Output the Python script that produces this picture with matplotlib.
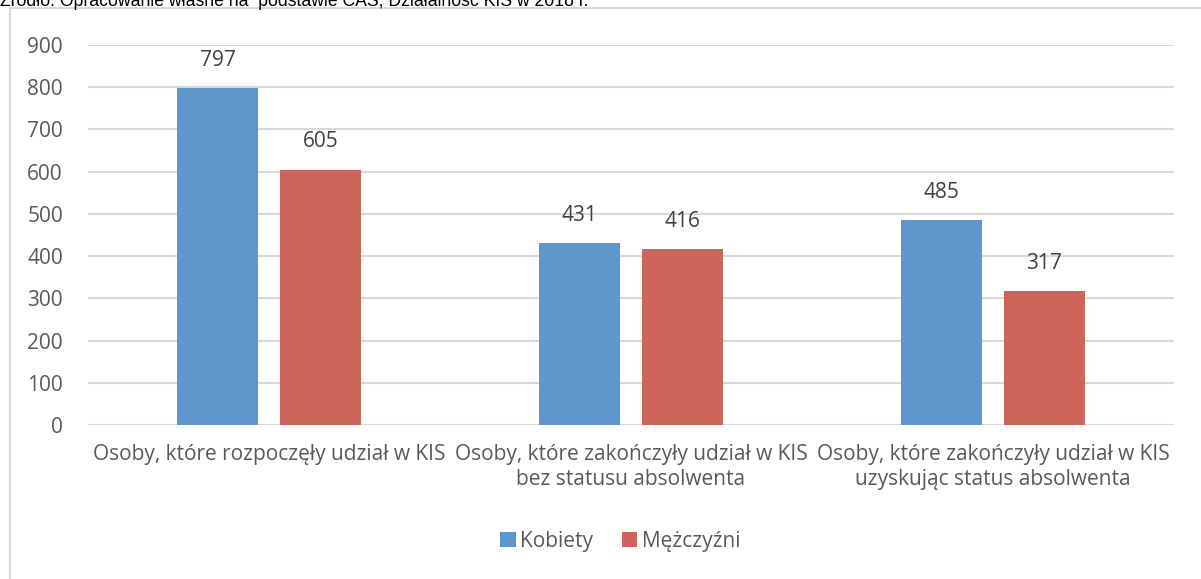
import matplotlib.pyplot as plt
import numpy as np
from matplotlib.patches import Rectangle

categories = ['Osoby, które rozpoczęły udział w KIS',
              'Osoby, które zakończyły udział w KIS\nbez statusu absolwenta',
              'Osoby, które zakończyły udział w KIS\nuzyskując status absolwenta']
series_names = ['Kobiety', 'Mężczyźni']
kobiety = [797, 431, 485]
mezczyzni = [605, 416, 317]
yticks = [0, 100, 200, 300, 400, 500, 600, 700, 800, 900]

plt.rcParams['font.family'] = ['Open Sans', 'DejaVu Sans']
txt = '#595959'

fig = plt.figure(figsize=(12.01, 5.79), dpi=100)
fig.patch.set_facecolor('white')

# ramka wykresu
fig.patches.append(Rectangle((10 / 1201, -0.05), 1.2, 1 - 8 / 579 + 0.05,
                             transform=fig.transFigure, fill=False,
                             edgecolor='#d9d9d9', linewidth=1.5))
fig.text(0.0, 1.0, 'Źródło: Opracowanie własne na  podstawie CAS, Działalność KIS w 2018 r.',
         ha='left', va='center', fontsize=12.7, color='black',
         family=['Liberation Sans', 'DejaVu Sans'])

ax = fig.add_axes([88 / 1201, 1 - 425 / 579, (1174 - 88) / 1201, (425 - 45) / 579])

x = np.arange(len(categories))
w = 0.224
off = 0.142
b1 = ax.bar(x - off, kobiety, w, color='#5f96cb', label=series_names[0], zorder=3)
b2 = ax.bar(x + off, mezczyzni, w, color='#cd655d', label=series_names[1], zorder=3)

for bars in (b1, b2):
    for b in bars:
        ax.annotate(f'{int(b.get_height())}', (b.get_x() + b.get_width() / 2, b.get_height()),
                    xytext=(0, 20), textcoords='offset points', ha='center', va='center',
                    fontsize=15, color='#404040')

ax.set_xlim(-0.5, 2.5)
ax.set_ylim(0, 900)
ax.set_yticks(yticks)
ax.set_xticks(x)
ax.set_xticklabels(categories, fontsize=15, color=txt, linespacing=1.25)
ax.tick_params(axis='y', labelsize=15, labelcolor=txt, length=0, pad=18)
ax.tick_params(axis='x', length=0, pad=14)
ax.grid(axis='y', color='#d9d9d9', linewidth=1.5, zorder=0)
for s in ax.spines.values():
    s.set_visible(False)

fig.legend(handles=[b1, b2], labels=series_names, loc='center', bbox_to_anchor=(620 / 1201, 1 - 541 / 579),
           ncol=2, frameon=False, fontsize=15, handlelength=0.75, handleheight=0.75,
           handletextpad=0.2, columnspacing=1.4, labelcolor=txt)

fig.savefig('out.png', dpi=100)
